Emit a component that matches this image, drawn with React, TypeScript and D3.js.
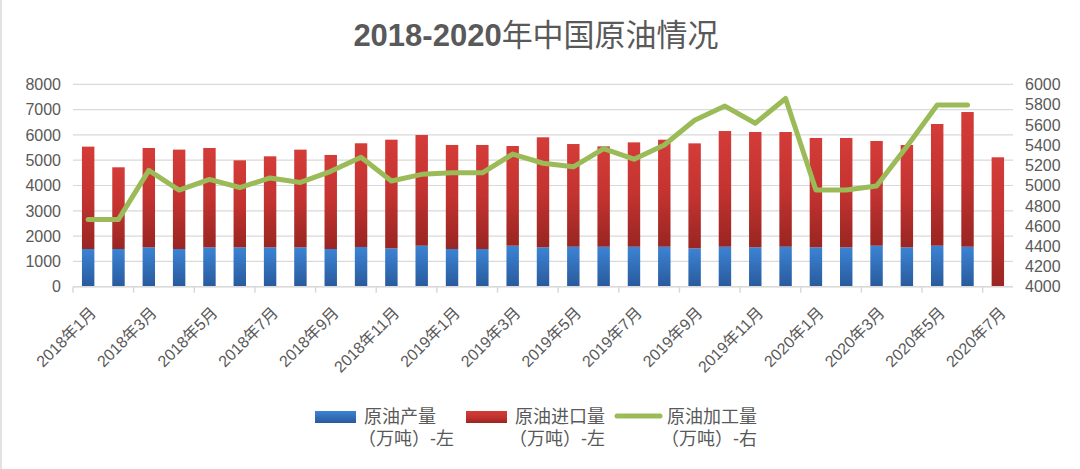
import React from "react";
import * as d3 from "d3";

const categories: string[] = [
  "2018年1月","2018年2月","2018年3月","2018年4月","2018年5月","2018年6月","2018年7月","2018年8月","2018年9月","2018年10月","2018年11月","2018年12月",
  "2019年1月","2019年2月","2019年3月","2019年4月","2019年5月","2019年6月","2019年7月","2019年8月","2019年9月","2019年10月","2019年11月","2019年12月",
  "2020年1月","2020年2月","2020年3月","2020年4月","2020年5月","2020年6月","2020年7月",
];

// 原油产量（万吨）-左
const production: (number | null)[] = [
  1490,1490,1555,1490,1555,1555,1555,1555,1490,1570,1515,1620,
  1490,1490,1620,1555,1580,1580,1580,1580,1515,1580,1555,1580,
  1555,1555,1620,1555,1620,1580,null,
];

// 原油进口量（万吨）-左
const imports: number[] = [
  4046,3229,3928,3928,3928,3440,3598,3862,3717,4099,4296,4376,
  4112,4112,3941,4350,4059,3967,4125,4230,4151,4573,4561,4534,
  4323,4323,4139,4046,4811,5324,5114,
];

// 原油加工量（万吨）-右
const processing: (number | null)[] = [
  4665,4665,5150,4955,5060,4980,5075,5030,5140,5280,5045,5110,
  5125,5125,5310,5220,5185,5365,5260,5400,5645,5785,5615,5860,
  4955,4955,4995,5385,5795,5795,null,
];

const leftTicks = [0,1000,2000,3000,4000,5000,6000,7000,8000];
const rightTicks = [4000,4200,4400,4600,4800,5000,5200,5400,5600,5800,6000];

const legendItems = [
  { line1: "原油产量", line2: "（万吨）-左", kind: "blue" },
  { line1: "原油进口量", line2: "（万吨）-左", kind: "red" },
  { line1: "原油加工量", line2: "（万吨）-右", kind: "green" },
];

const W = 1080, H = 469;
const X0 = 73, X1 = 1013, YTOP = 84.3, YBOT = 286.7;
const TXT = "#595959";
const FONT = "'Liberation Sans', 'Noto Sans CJK SC', sans-serif";
const GREEN = "#9BBB59";

export default function App() {
  const x = d3.scaleBand<string>().domain(categories).range([X0, X1]).paddingInner(0.59).paddingOuter(0.295);
  const step = x.step();
  const cx = (c: string) => (x(c) as number) + x.bandwidth() / 2;
  const yL = d3.scaleLinear().domain([0, 8000]).range([YBOT, YTOP]);
  const yR = d3.scaleLinear().domain([4000, 6000]).range([YBOT, YTOP]);

  const lineData = categories.map((c, i) => ({ c, v: processing[i] })).filter(d => d.v != null) as { c: string; v: number }[];
  const lineGen = d3.line<{ c: string; v: number }>().x(d => cx(d.c)).y(d => yR(d.v));

  const tickIdx = d3.range(0, categories.length, 2);

  const legendX = [315, 466, 615];
  const textX = [364, 515, 667];

  return (
    <svg width={W} height={H} style={{ position: "absolute", left: 0, top: 0, background: "#fff" }} fontFamily={FONT}>
      <defs>
        <linearGradient id="gRed" x1="0" y1="0" x2="0" y2="1">
          <stop offset="0" stopColor="#D43C38" />
          <stop offset="0.5" stopColor="#C33330" />
          <stop offset="1" stopColor="#992522" />
        </linearGradient>
        <linearGradient id="gBlue" x1="0" y1="0" x2="0" y2="1">
          <stop offset="0" stopColor="#3C83D4" />
          <stop offset="1" stopColor="#285A9C" />
        </linearGradient>
      </defs>
      <rect x={0} y={0} width={W} height={H} fill="#fff" />
      <line x1={1} x2={1} y1={0} y2={H} stroke="#D9D9D9" strokeWidth={1.5} />

      {/* title */}
      <text x={536} y={46} textAnchor="middle" fontSize={31} fill={TXT}>
        <tspan fontWeight="bold">2018-2020</tspan>
        <tspan fontWeight="normal">年中国原油情况</tspan>
      </text>

      {/* gridlines */}
      {leftTicks.map(t => (
        <line key={"g" + t} x1={X0} x2={X1} y1={yL(t)} y2={yL(t)} stroke="#D9D9D9" strokeWidth={1.2} />
      ))}

      {/* left axis labels */}
      {leftTicks.map(t => (
        <text key={"l" + t} x={61} y={yL(t)} dy="0.36em" textAnchor="end" fontSize={16} fill={TXT}>{t}</text>
      ))}
      {/* right axis labels */}
      {rightTicks.map(t => (
        <text key={"r" + t} x={1025} y={yR(t)} dy="0.36em" textAnchor="start" fontSize={16} fill={TXT}>{t}</text>
      ))}

      {/* bars */}
      {categories.map((c, i) => {
        const p = production[i] ?? 0;
        const top = p + imports[i];
        return (
          <g key={"b" + c}>
            {p > 0 && (
              <rect x={x(c)} y={yL(p)} width={x.bandwidth()} height={yL(0) - yL(p)} fill="url(#gBlue)" />
            )}
            <rect x={x(c)} y={yL(top)} width={x.bandwidth()} height={yL(p) - yL(top)} fill="url(#gRed)" />
          </g>
        );
      })}

      {/* x axis */}
      <line x1={X0} x2={X1} y1={YBOT} y2={YBOT} stroke="#D9D9D9" strokeWidth={1.5} />
      {tickIdx.map(i => {
        const tx = X0 + i * step;
        return <line key={"t" + i} x1={tx} x2={tx} y1={YBOT} y2={YBOT + 6} stroke="#D9D9D9" strokeWidth={1.5} />;
      })}
      {tickIdx.map(i => {
        const c = categories[i];
        const px = cx(c) + 9;
        const py = 314;
        return (
          <text key={"xl" + i} transform={`translate(${px},${py}) rotate(-45)`} textAnchor="end" fontSize={16} fill={TXT}>{c}</text>
        );
      })}

      {/* line */}
      <path d={lineGen(lineData) || ""} fill="none" stroke={GREEN} strokeWidth={5} strokeLinejoin="round" strokeLinecap="round" />

      {/* legend */}
      {legendItems.map((it, i) => (
        <g key={"lg" + i}>
          {it.kind === "green" ? (
            <line x1={legendX[i] + 2} x2={legendX[i] + 45} y1={416} y2={416} stroke={GREEN} strokeWidth={5} strokeLinecap="round" />
          ) : (
            <rect x={legendX[i]} y={411} width={41} height={12} fill={it.kind === "blue" ? "url(#gBlue)" : "url(#gRed)"} />
          )}
          <text x={textX[i]} y={423} fontSize={18} fill={TXT}>{it.line1}</text>
          <text x={textX[i] - 6} y={445} fontSize={18} fill={TXT}>{it.line2}</text>
        </g>
      ))}
    </svg>
  );
}
